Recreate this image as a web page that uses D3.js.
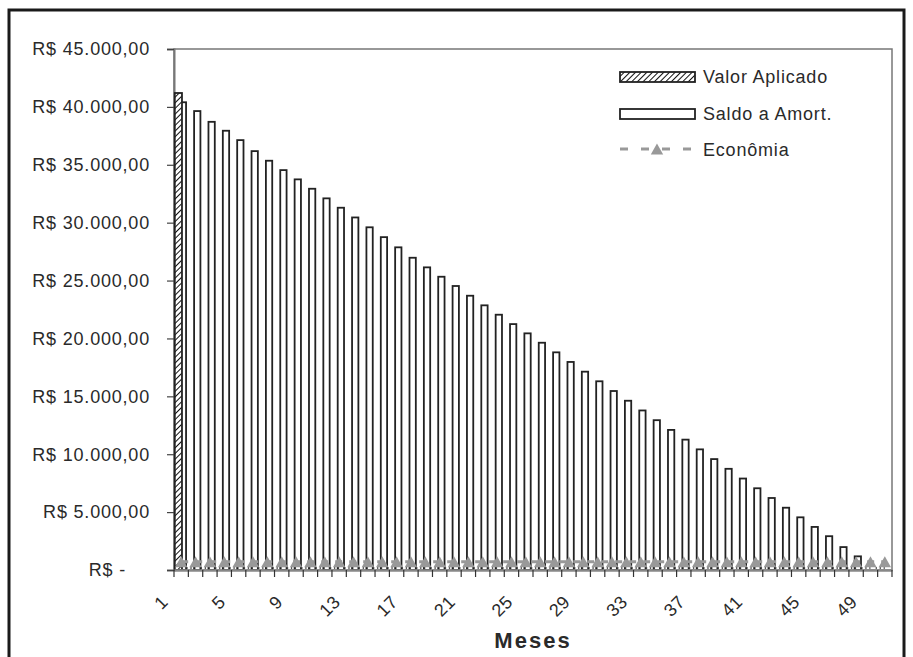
<!DOCTYPE html>
<html>
<head>
<meta charset="utf-8">
<script src="https://cdn.jsdelivr.net/npm/d3@7"></script>
<style>
  html, body { margin: 0; padding: 0; background: #fff; }
  svg { display: block; }
  text { font-family: "Liberation Sans", Arial, sans-serif; fill: #2a2a2a; }
</style>
</head>
<body>
<svg id="chart" width="913" height="657"></svg>
<script>
// ---------- DATA ----------
const meses = d3.range(1, 51); // 1..50
const xTickLabels = [1, 5, 9, 13, 17, 21, 25, 29, 33, 37, 41, 45, 49];
const yTicks = [0, 5000, 10000, 15000, 20000, 25000, 30000, 35000, 40000, 45000];
const yTickLabels = ["R$ -", "R$ 5.000,00", "R$ 10.000,00", "R$ 15.000,00", "R$ 20.000,00",
  "R$ 25.000,00", "R$ 30.000,00", "R$ 35.000,00", "R$ 40.000,00", "R$ 45.000,00"];
const valorAplicado = [41200, 0,0,0,0,0,0,0,0,0, 0,0,0,0,0,0,0,0,0,0,
  0,0,0,0,0,0,0,0,0,0, 0,0,0,0,0,0,0,0,0,0, 0,0,0,0,0,0,0,0,0,0];
const saldoAmort = [40400, 39640, 38710, 37940, 37130, 36180, 35350, 34540, 33740, 32930,
  32100, 31290, 30450, 29600, 28750, 27870, 26970, 26140, 25330, 24530,
  23690, 22860, 22050, 21240, 20440, 19630, 18800, 17970, 17130, 16300,
  15460, 14620, 13780, 12940, 12100, 11260, 10420, 9580, 8740, 7900,
  7060, 6220, 5380, 4550, 3720, 2920, 1980, 1180, 0, 0];
const economia = [720,720,720,720,720,720,720,720,720,720, 720,720,720,720,720,720,720,720,720,720,
  720,720,720,720,720,720,720,720,720,720, 720,720,720,720,720,720,720,720,720,720,
  720,720,720,720,720,720,720,720,720,720];
const seriesNames = ["Valor Aplicado", "Saldo a Amort.", "Econômia"];
const axisTitle = "Meses";

// ---------- LAYOUT ----------
const svg = d3.select("#chart");
const plot = { left: 174, right: 892, top: 49, bottom: 570 };

// outer frame
svg.append("rect").attr("x", 9).attr("y", 10).attr("width", 895).attr("height", 700)
  .attr("fill", "none").attr("stroke", "#1a1a1a").attr("stroke-width", 3);

const x = d3.scaleBand().domain(meses).range([plot.left, plot.right]).padding(0);
const y = d3.scaleLinear().domain([0, 45000]).range([plot.bottom, plot.top]);
const bw = x.bandwidth();

// hatch pattern
const defs = svg.append("defs");
const pat = defs.append("pattern").attr("id", "hatch").attr("patternUnits", "userSpaceOnUse")
  .attr("width", 4).attr("height", 4).attr("patternTransform", "rotate(45)");
pat.append("rect").attr("width", 4).attr("height", 4).attr("fill", "#fff");
pat.append("line").attr("x1", 0).attr("y1", 0).attr("x2", 0).attr("y2", 4)
  .attr("stroke", "#111").attr("stroke-width", 2);

// plot border
svg.append("rect").attr("x", plot.left).attr("y", plot.top)
  .attr("width", plot.right - plot.left).attr("height", plot.bottom - plot.top)
  .attr("fill", "none").attr("stroke", "#777").attr("stroke-width", 1.5);

// Y axis
const yAxis = d3.axisLeft(y).tickValues(yTicks).tickSize(7).tickFormat((d, i) => "");
const gy = svg.append("g").attr("transform", `translate(${plot.left},0)`).call(yAxis);
gy.select(".domain").attr("stroke", "#777").attr("stroke-width", 2);
gy.selectAll(".tick line").attr("stroke", "#444").attr("stroke-width", 1.2);
yTicks.forEach((v, i) => {
  svg.append("text")
    .attr("x", v === 0 ? 126 : 150)
    .attr("y", y(v))
    .attr("dy", "0.35em")
    .attr("text-anchor", "end")
    .style("font-size", "18px")
    .style("letter-spacing", "0.8px")
    .text(yTickLabels[i]);
});

// Saldo bars
svg.append("g").selectAll("rect").data(meses.filter((m, i) => saldoAmort[i] > 0)).join("rect")
  .attr("x", m => x(m) + bw * 0.40)
  .attr("y", m => y(saldoAmort[m - 1]))
  .attr("width", bw * 0.44)
  .attr("height", m => y(0) - y(saldoAmort[m - 1]))
  .attr("fill", "#fff").attr("stroke", "#222").attr("stroke-width", 1.8);

// Valor Aplicado bars
svg.append("g").selectAll("rect").data(meses.filter((m, i) => valorAplicado[i] > 0)).join("rect")
  .attr("x", m => x(m) + 0.8)
  .attr("y", m => y(valorAplicado[m - 1]))
  .attr("width", bw * 0.5)
  .attr("height", m => y(0) - y(valorAplicado[m - 1]))
  .attr("fill", "url(#hatch)").attr("stroke", "#222").attr("stroke-width", 1.8);
// zero-height Valor Aplicado bars (dotted outlines near axis)
svg.append("g").selectAll("line").data(meses.filter((m, i) => valorAplicado[i] === 0)).join("line")
  .attr("x1", m => x(m) - 2).attr("x2", m => x(m) + bw * 0.5)
  .attr("y1", y(0) - 2).attr("y2", y(0) - 2)
  .attr("stroke", "#222").attr("stroke-width", 1.3).attr("stroke-dasharray", "1.3,2.7");

// X axis
const xAxis = d3.axisBottom(x).tickSize(0).tickFormat("");
const gx = svg.append("g").attr("transform", `translate(0,${plot.bottom})`).call(xAxis);
gx.select(".domain").attr("stroke", "#888").attr("stroke-width", 2.5);
// tick marks at category boundaries
svg.append("g").selectAll("line").data(meses.concat([51])).join("line")
  .attr("x1", m => m <= 50 ? x(m) : plot.right).attr("x2", m => m <= 50 ? x(m) : plot.right)
  .attr("y1", plot.bottom).attr("y2", plot.bottom + 7)
  .attr("stroke", "#333").attr("stroke-width", 1.2);
xTickLabels.forEach(m => {
  const cx = x(m) + bw / 2 - 12, cy = 603;
  svg.append("text")
    .attr("transform", `translate(${cx},${cy}) rotate(-45)`)
    .attr("text-anchor", "end")
    .style("font-size", "18px")
    .style("letter-spacing", "0.5px")
    .text(m);
});

// Economia line + markers
const tri = "M0,-5.5L6.2,5.5L-6.2,5.5Z";
const line = d3.line().x((d, i) => x(meses[i]) + bw / 2).y(d => y(d));
svg.append("path").datum(economia).attr("d", line)
  .attr("fill", "none").attr("stroke", "#999").attr("stroke-width", 3).attr("stroke-dasharray", "7,7");
svg.append("g").selectAll("path").data(economia).join("path")
  .attr("d", tri)
  .attr("transform", (d, i) => `translate(${x(meses[i]) + bw / 2},${y(d)})`)
  .attr("fill", "#999");

// axis title
svg.append("text").attr("x", (plot.left + plot.right) / 2).attr("y", 648)
  .attr("text-anchor", "middle")
  .style("font-size", "22px").style("font-weight", "bold").style("letter-spacing", "2px")
  .text(axisTitle);

// Legend
const lg = svg.append("g");
lg.append("rect").attr("x", 620).attr("y", 72).attr("width", 75).attr("height", 10)
  .attr("fill", "url(#hatch)").attr("stroke", "#222").attr("stroke-width", 1.8);
lg.append("rect").attr("x", 620).attr("y", 109).attr("width", 75).attr("height", 10)
  .attr("fill", "#fff").attr("stroke", "#222").attr("stroke-width", 1.8);
lg.append("line").attr("x1", 620).attr("x2", 697).attr("y1", 149).attr("y2", 149)
  .attr("stroke", "#999").attr("stroke-width", 3).attr("stroke-dasharray", "8,13");
lg.append("path").attr("d", tri).attr("transform", "translate(657,149)").attr("fill", "#999");
[[83, seriesNames[0]], [120, seriesNames[1]], [156, seriesNames[2]]].forEach(([ty, t]) => {
  lg.append("text").attr("x", 703).attr("y", ty)
    .style("font-size", "18px").style("letter-spacing", "0.8px").text(t);
});
</script>
</body>
</html>
